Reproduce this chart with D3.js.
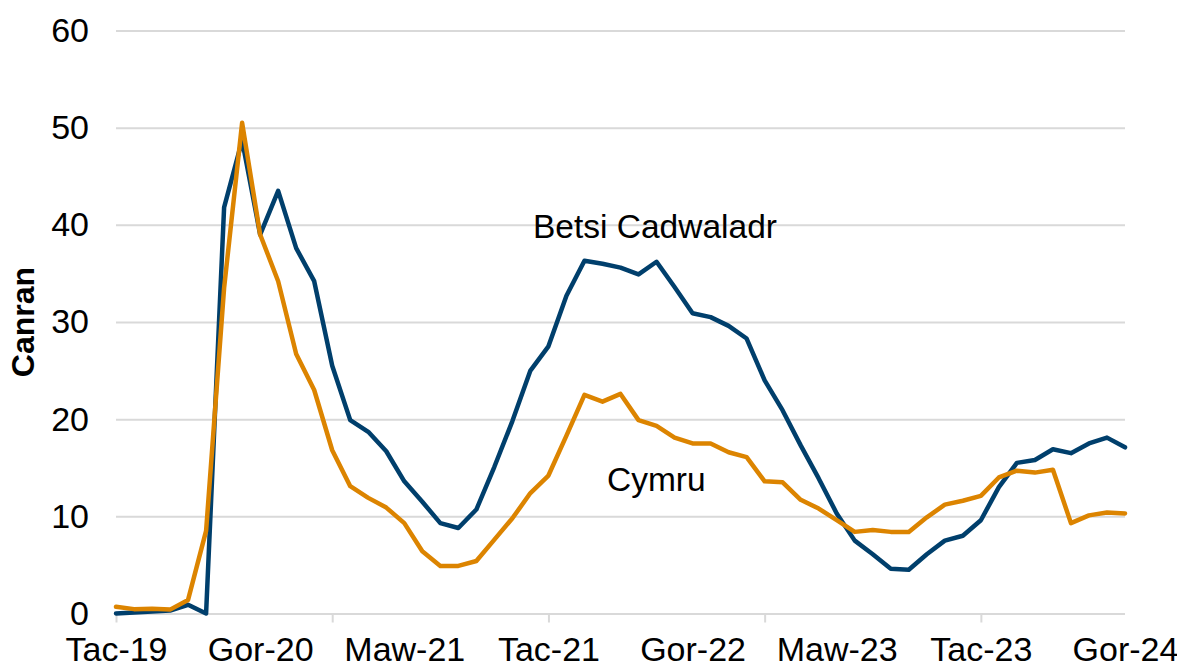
<!DOCTYPE html>
<html>
<head>
<meta charset="utf-8">
<script src="https://cdn.jsdelivr.net/npm/d3@7/dist/d3.min.js"></script>
<style>
  html, body { margin: 0; padding: 0; background: #ffffff; }
  svg { display: block; font-family: "Liberation Sans", Arial, sans-serif; }
</style>
</head>
<body>
<svg id="chart" width="1177" height="665"></svg>
<script>
// Month categories (Welsh abbreviations), Nov 2019 – Jul 2024
const categories = [
  "Tac-19","Rha-19",
  "Ion-20","Chw-20","Maw-20","Ebr-20","Mai-20","Meh-20","Gor-20","Aws-20","Med-20","Hyd-20","Tac-20","Rha-20",
  "Ion-21","Chw-21","Maw-21","Ebr-21","Mai-21","Meh-21","Gor-21","Aws-21","Med-21","Hyd-21","Tac-21","Rha-21",
  "Ion-22","Chw-22","Maw-22","Ebr-22","Mai-22","Meh-22","Gor-22","Aws-22","Med-22","Hyd-22","Tac-22","Rha-22",
  "Ion-23","Chw-23","Maw-23","Ebr-23","Mai-23","Meh-23","Gor-23","Aws-23","Med-23","Hyd-23","Tac-23","Rha-23",
  "Ion-24","Chw-24","Maw-24","Ebr-24","Mai-24","Meh-24","Gor-24"
];

const betsiCadwaladr = [
  0.0, 0.1, 0.2, 0.3, 0.9, 0.0, 41.8, 48.7, 39.0, 43.5, 37.6, 34.2, 25.5, 19.9,
  18.7, 16.7, 13.6, 11.5, 9.3, 8.8, 10.7, 15.1, 19.8, 25.0, 27.5, 32.7,
  36.3, 36.0, 35.6, 34.9, 36.2, 33.6, 30.9, 30.5, 29.6, 28.3, 24.0, 20.9,
  17.3, 13.9, 10.3, 7.5, 6.1, 4.6, 4.5, 6.1, 7.5, 8.0, 9.6, 13.0,
  15.5, 15.8, 16.9, 16.5, 17.5, 18.1, 17.1
];

const cymru = [
  0.7, 0.45, 0.5, 0.4, 1.4, 8.5, 33.5, 50.5, 39.0, 34.2, 26.7, 23.0, 16.8, 13.1,
  11.9, 10.9, 9.3, 6.4, 4.9, 4.9, 5.4, 7.6, 9.8, 12.4, 14.2, 18.3,
  22.5, 21.8, 22.6, 19.9, 19.3, 18.1, 17.5, 17.5, 16.6, 16.1, 13.6, 13.5,
  11.7, 10.8, 9.6, 8.4, 8.6, 8.4, 8.4, 9.9, 11.2, 11.6, 12.1, 14.0,
  14.7, 14.5, 14.8, 9.3, 10.1, 10.4, 10.3
];

const yTicks = [0, 10, 20, 30, 40, 50, 60];
const xLabelTicks = ["Tac-19","Gor-20","Maw-21","Tac-21","Gor-22","Maw-23","Tac-23","Gor-24"];
const xMarkTicks = ["Tac-19","Tac-20","Tac-21","Tac-22","Tac-23"];
const yAxisTitle = "Canran";
const seriesNames = ["Betsi Cadwaladr", "Cymru"];

// ---- layout ----
const svg = d3.select("#chart");
const plotLeft = 116, plotRight = 1125, plotTop = 30.5, plotBottom = 613.5;
const TICK_FONT = 34, NOTE_FONT = 33.5, TITLE_FONT = 32;
const BLUE = "#003f6c", ORANGE = "#dc8400", GRID = "#d9d9d9";

const x = d3.scalePoint().domain(categories).range([plotLeft, plotRight]);
const y = d3.scaleLinear().domain([0, 60]).range([plotBottom, plotTop]);

// gridlines + y labels
const yAxis = svg.append("g")
  .attr("transform", `translate(${plotLeft},0)`)
  .call(d3.axisLeft(y).tickValues(yTicks).tickSize(-(plotRight - plotLeft)).tickPadding(27).tickFormat(d3.format("d")));
yAxis.select(".domain").remove();
yAxis.selectAll(".tick line").attr("stroke", GRID).attr("stroke-width", 2);
yAxis.selectAll(".tick text")
  .attr("font-size", TICK_FONT).attr("fill", "#000").attr("font-family", "Liberation Sans, Arial, sans-serif");

// x tick marks
const xMarks = svg.append("g")
  .attr("transform", `translate(0,${plotBottom})`)
  .call(d3.axisBottom(x).tickValues(xMarkTicks).tickSize(9).tickFormat(""));
xMarks.select(".domain").remove();
xMarks.selectAll(".tick line").attr("stroke", GRID).attr("stroke-width", 2);

// x labels
const xLabels = svg.append("g")
  .attr("transform", `translate(0,${plotBottom})`)
  .call(d3.axisBottom(x).tickValues(xLabelTicks).tickSize(0).tickPadding(23));
xLabels.select(".domain").remove();
xLabels.selectAll(".tick text")
  .attr("font-size", TICK_FONT).attr("fill", "#000").attr("font-family", "Liberation Sans, Arial, sans-serif");

// y axis title
svg.append("text")
  .attr("transform", `translate(34,${(plotTop + plotBottom) / 2}) rotate(-90)`)
  .attr("text-anchor", "middle")
  .attr("font-size", TITLE_FONT)
  .attr("font-weight", "bold")
  .text(yAxisTitle);

// lines
const line = d3.line()
  .x((d, i) => x(categories[i]))
  .y(d => y(d));

svg.append("path")
  .datum(betsiCadwaladr)
  .attr("fill", "none").attr("stroke", BLUE).attr("stroke-width", 4.5)
  .attr("stroke-linejoin", "round").attr("stroke-linecap", "round")
  .attr("d", line);

svg.append("path")
  .datum(cymru)
  .attr("fill", "none").attr("stroke", ORANGE).attr("stroke-width", 4.5)
  .attr("stroke-linejoin", "round").attr("stroke-linecap", "round")
  .attr("d", line);

// annotations
svg.append("text")
  .attr("x", 533).attr("y", 238)
  .attr("font-size", NOTE_FONT)
  .text(seriesNames[0]);

svg.append("text")
  .attr("x", 607).attr("y", 491)
  .attr("font-size", NOTE_FONT)
  .text(seriesNames[1]);
</script>
</body>
</html>
